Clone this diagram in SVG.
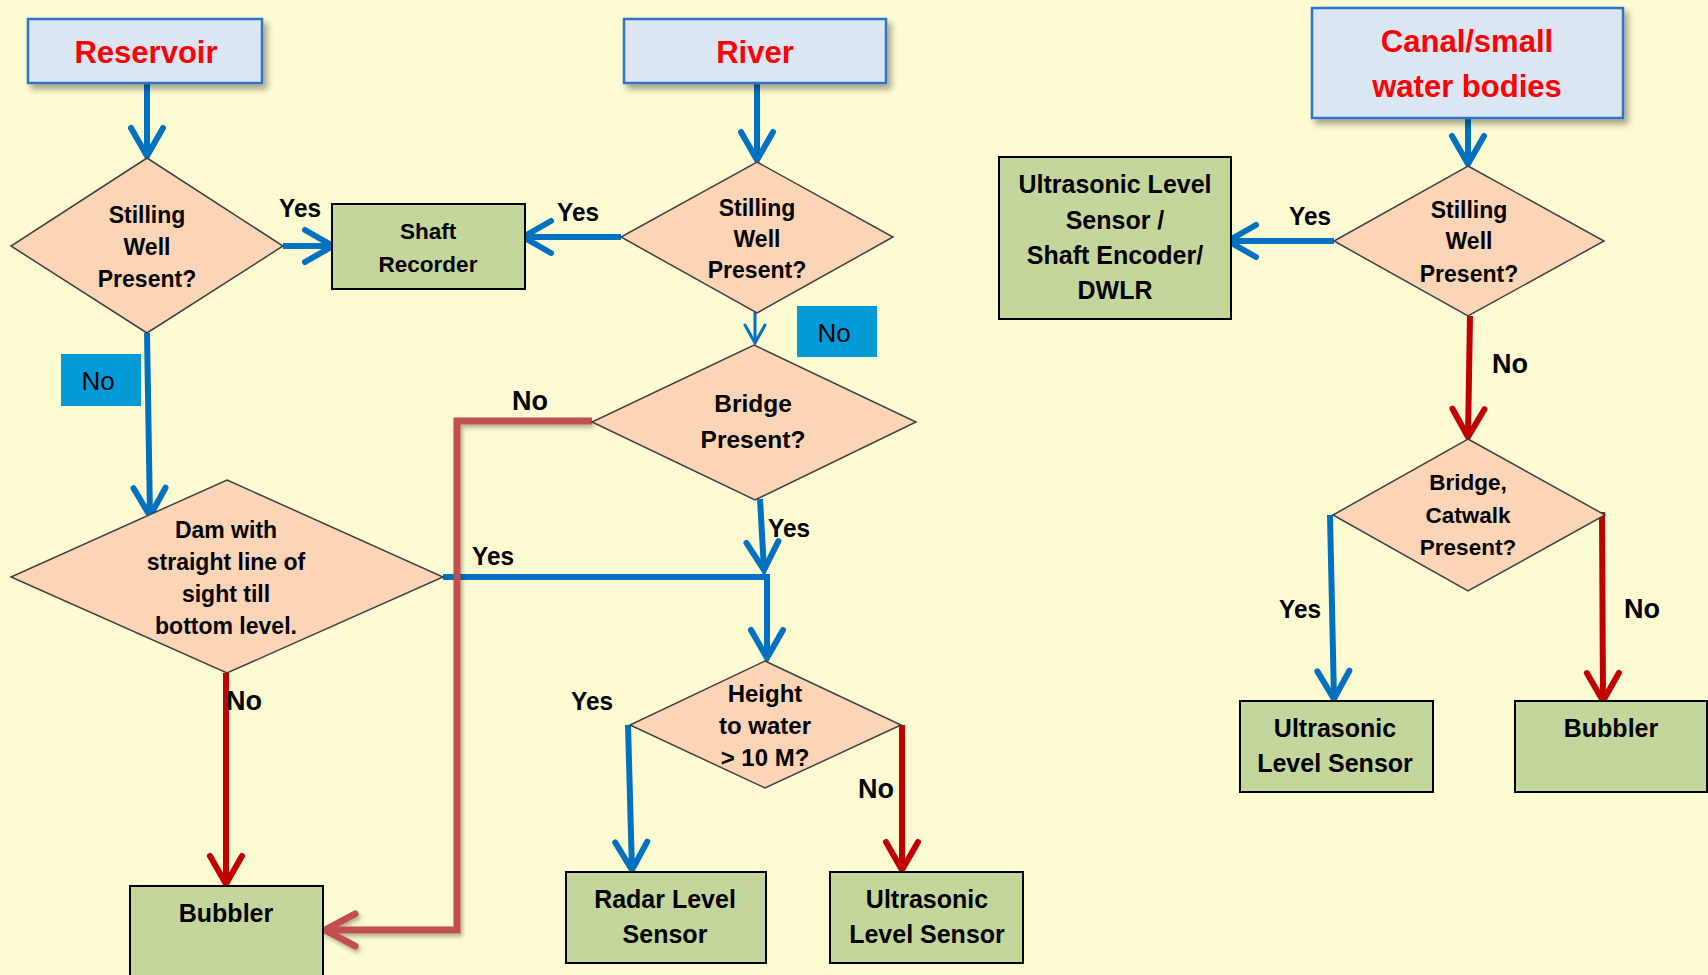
<svg xmlns="http://www.w3.org/2000/svg" width="1708" height="975" viewBox="0 0 1708 975">
<defs>
<filter id="sh" x="-10%" y="-10%" width="130%" height="140%">
<feDropShadow dx="4" dy="5" stdDeviation="3" flood-color="#000" flood-opacity="0.35"/>
</filter>
<filter id="lsh" x="-10%" y="-10%" width="130%" height="130%">
<feDropShadow dx="2" dy="3" stdDeviation="2" flood-color="#000" flood-opacity="0.3"/>
</filter>
<marker id="mb" markerUnits="userSpaceOnUse" markerWidth="44" markerHeight="44" viewBox="-36 -22 44 44" refX="0" refY="0" orient="auto" overflow="visible">
<path d="M-28,-16 L0,0 L-28,16" fill="none" stroke="#0070c0" stroke-width="6" stroke-linecap="round"/>
</marker>
<marker id="mbs" markerUnits="userSpaceOnUse" markerWidth="30" markerHeight="30" viewBox="-24 -15 30 30" refX="0" refY="0" orient="auto" overflow="visible">
<path d="M-18,-10 L0,0 L-18,10" fill="none" stroke="#0070c0" stroke-width="3" stroke-linecap="round"/>
</marker>
<marker id="mr" markerUnits="userSpaceOnUse" markerWidth="44" markerHeight="44" viewBox="-36 -22 44 44" refX="0" refY="0" orient="auto" overflow="visible">
<path d="M-28,-16 L0,0 L-28,16" fill="none" stroke="#c00000" stroke-width="6" stroke-linecap="round"/>
</marker>
<marker id="mr2" markerUnits="userSpaceOnUse" markerWidth="44" markerHeight="44" viewBox="-36 -22 44 44" refX="0" refY="0" orient="auto" overflow="visible">
<path d="M-30,-16 L0,0 L-30,16" fill="none" stroke="#c0504d" stroke-width="7" stroke-linecap="round"/>
</marker>
</defs>
<style>
text{font-family:"Liberation Sans",Arial,sans-serif;font-weight:bold;text-anchor:middle;fill:#000}
.title{fill:#dce6f2;stroke:#2e75c8;stroke-width:2.5}
.tt{fill:#ff0000;font-size:31px}
.dia{fill:#fbd5b5;stroke:#404040;stroke-width:1.5}
.box{fill:#c3d69b;stroke:#000;stroke-width:2}
.nobox{fill:#019ad6}
.d{font-size:23px}
.b{font-size:25px}
.yes{font-size:26px}
.no{font-size:27px}
.nb{font-size:26px;font-weight:normal}
.cb{fill:none;stroke:#0070c0;stroke-width:6}
.cr{fill:none;stroke:#c00000;stroke-width:6}
</style>
<rect width="1708" height="975" fill="#fdfbd2"/>

<g id="connectors">
<path class="cb" d="M147,83 L147,156" marker-end="url(#mb)"/>
<path class="cb" d="M283,246 L333,246" marker-end="url(#mb)"/>
<path class="cb" d="M147,333 L150,516" marker-end="url(#mb)"/>
<path class="cb" d="M443,577 L767,577 L767,658" marker-end="url(#mb)"/>
<path class="cr" d="M226,673 L226,884" marker-end="url(#mr)"/>
<path class="cb" d="M757,83 L757,160" marker-end="url(#mb)"/>
<path class="cb" d="M621,237 L523,237" marker-end="url(#mb)"/>
<path d="M755,312 L755,343" fill="none" stroke="#0070c0" stroke-width="3" marker-end="url(#mbs)"/>
<path d="M592,421 L457,421 L457,930 L325,930" fill="none" stroke="#c0504d" stroke-width="7" filter="url(#lsh)" marker-end="url(#mr2)"/>
<path class="cb" d="M760,499 L764,570" marker-end="url(#mb)"/>
<path class="cb" d="M628,725 L632,870" marker-end="url(#mb)"/>
<path class="cr" d="M902,725 L902,870" marker-end="url(#mr)"/>
<path class="cb" d="M1468,118 L1468,164" marker-end="url(#mb)"/>
<path class="cb" d="M1334,241 L1228,241" marker-end="url(#mb)"/>
<path class="cr" d="M1470,316 L1468,437" marker-end="url(#mr)"/>
<path class="cb" d="M1330,515 L1334,699" marker-end="url(#mb)"/>
<path class="cr" d="M1597,515 L1602,515 L1603,701" marker-end="url(#mr)"/>
</g>

<g id="labels">
<text class="yes" x="300" y="217" textLength="42" lengthAdjust="spacingAndGlyphs">Yes</text>
<text class="yes" x="578" y="221" textLength="42" lengthAdjust="spacingAndGlyphs">Yes</text>
<text class="no" x="530" y="410">No</text>
<text class="yes" x="493" y="565" textLength="42" lengthAdjust="spacingAndGlyphs">Yes</text>
<text class="yes" x="789" y="537" textLength="42" lengthAdjust="spacingAndGlyphs">Yes</text>
<text class="no" x="244" y="710">No</text>
<text class="yes" x="592" y="710" textLength="42" lengthAdjust="spacingAndGlyphs">Yes</text>
<text class="no" x="876" y="798">No</text>
<text class="yes" x="1310" y="225" textLength="42" lengthAdjust="spacingAndGlyphs">Yes</text>
<text class="no" x="1510" y="373">No</text>
<text class="yes" x="1300" y="618" textLength="42" lengthAdjust="spacingAndGlyphs">Yes</text>
<text class="no" x="1642" y="618">No</text>
</g>

<g id="reservoir">
<rect class="title" x="28" y="19" width="234" height="64" filter="url(#sh)"/>
<text class="tt" x="146" y="63">Reservoir</text>
</g>
<g id="river">
<rect class="title" x="624" y="19" width="262" height="64" filter="url(#sh)"/>
<text class="tt" x="755" y="63">River</text>
</g>
<g id="canal">
<rect class="title" x="1312" y="8" width="311" height="110" filter="url(#sh)"/>
<text class="tt" x="1467" y="52">Canal/small</text>
<text class="tt" x="1467" y="97">water bodies</text>
</g>

<g id="stilling-reservoir">
<polygon class="dia" points="147,158 283,246 147,333 11,246"/>
<text class="d" x="147" y="223">Stilling</text>
<text class="d" x="147" y="255">Well</text>
<text class="d" x="147" y="287">Present?</text>
</g>
<g id="shaft-recorder">
<rect class="box" x="332" y="204" width="193" height="85"/>
<text x="428" y="239" style="font-size:22.5px">Shaft</text>
<text x="428" y="272" style="font-size:22.5px">Recorder</text>
</g>
<g id="stilling-river">
<polygon class="dia" points="757,162 893,237 757,313 621,237"/>
<text class="d" x="757" y="216">Stilling</text>
<text class="d" x="757" y="247">Well</text>
<text class="d" x="757" y="278">Present?</text>
</g>
<g id="no-river">
<rect class="nobox" x="797" y="306" width="80" height="51"/>
<text class="nb" x="834" y="342">No</text>
</g>
<g id="no-reservoir">
<rect class="nobox" x="61" y="354" width="80" height="52"/>
<text class="nb" x="98" y="390">No</text>
</g>
<g id="bridge-river">
<polygon class="dia" points="754,345 916,422 755,500 592,422"/>
<text x="753" y="412" style="font-size:24.5px">Bridge</text>
<text x="753" y="448" style="font-size:24.5px">Present?</text>
</g>
<g id="dam">
<polygon class="dia" points="227,480 443,577 227,673 11,577"/>
<text class="d" x="226" y="538">Dam with</text>
<text class="d" x="226" y="570">straight line of</text>
<text class="d" x="226" y="602">sight till</text>
<text class="d" x="226" y="634">bottom level.</text>
</g>
<g id="height">
<polygon class="dia" points="765,661 901,725 765,788 630,725"/>
<text x="765" y="702" style="font-size:24px">Height</text>
<text x="765" y="734" style="font-size:24px">to water</text>
<text x="765" y="766" style="font-size:24px">&gt; 10 M?</text>
</g>
<g id="bubbler-left">
<rect class="box" x="130" y="886" width="193" height="100"/>
<text class="b" x="226" y="922">Bubbler</text>
</g>
<g id="radar">
<rect class="box" x="566" y="872" width="200" height="91"/>
<text class="b" x="665" y="908">Radar Level</text>
<text class="b" x="665" y="943">Sensor</text>
</g>
<g id="ultrasonic-river">
<rect class="box" x="830" y="872" width="193" height="91"/>
<text class="b" x="927" y="908">Ultrasonic</text>
<text class="b" x="927" y="943">Level Sensor</text>
</g>
<g id="stilling-canal">
<polygon class="dia" points="1468,166 1604,241 1468,316 1334,241"/>
<text class="d" x="1469" y="218">Stilling</text>
<text class="d" x="1469" y="249">Well</text>
<text class="d" x="1469" y="282">Present?</text>
</g>
<g id="ultrasonic-shaft-dwlr">
<rect class="box" x="999" y="157" width="232" height="162"/>
<text class="b" x="1115" y="193">Ultrasonic Level</text>
<text class="b" x="1115" y="229">Sensor /</text>
<text class="b" x="1115" y="264">Shaft Encoder/</text>
<text class="b" x="1115" y="299">DWLR</text>
</g>
<g id="bridge-catwalk">
<polygon class="dia" points="1468,439 1605,515 1468,591 1333,515"/>
<text x="1468" y="490" style="font-size:22.5px">Bridge,</text>
<text x="1468" y="523" style="font-size:22.5px">Catwalk</text>
<text x="1468" y="555" style="font-size:22.5px">Present?</text>
</g>
<g id="ultrasonic-canal">
<rect class="box" x="1240" y="701" width="193" height="91"/>
<text class="b" x="1335" y="737">Ultrasonic</text>
<text class="b" x="1335" y="772">Level Sensor</text>
</g>
<g id="bubbler-canal">
<rect class="box" x="1515" y="701" width="192" height="91"/>
<text class="b" x="1611" y="737">Bubbler</text>
</g>
</svg>
